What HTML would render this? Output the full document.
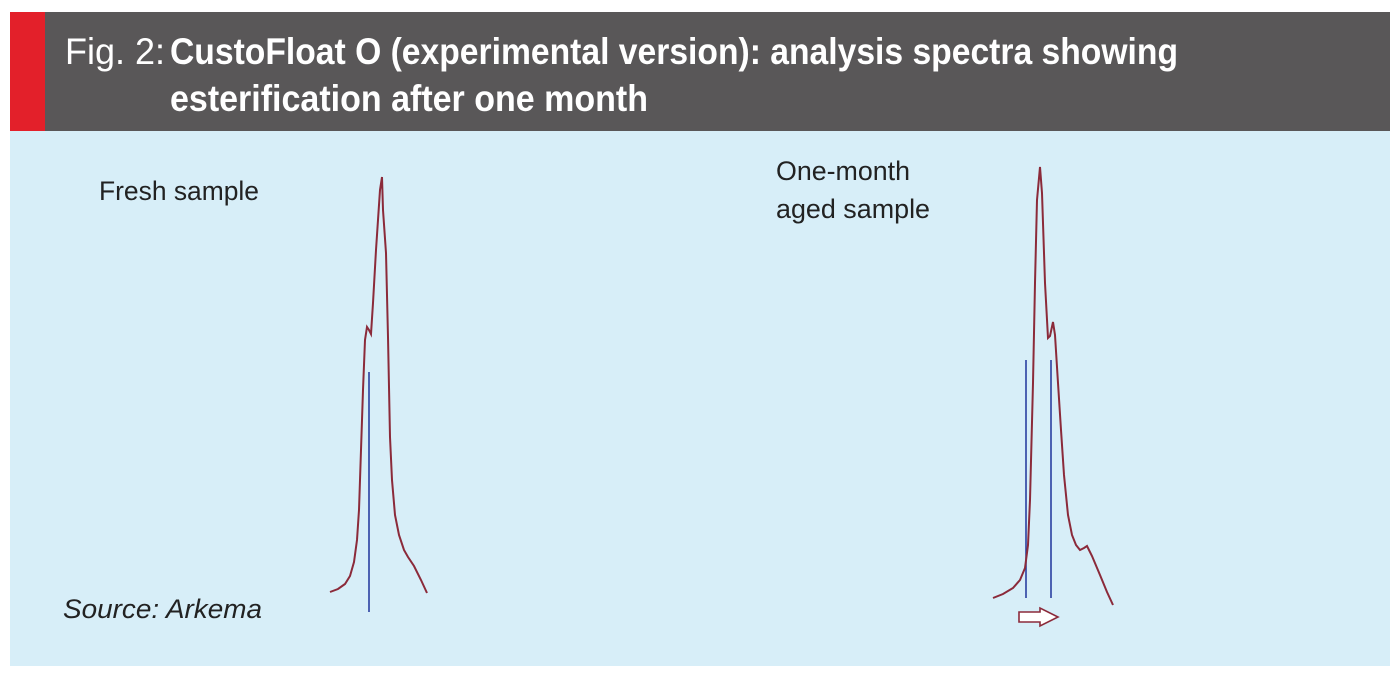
<!DOCTYPE html>
<html><head><style>
html,body{margin:0;padding:0;background:#fff;}
</style></head><body>
<svg width="1393" height="674" xmlns="http://www.w3.org/2000/svg" style="display:block">
<rect x="0" y="0" width="1393" height="674" fill="#fff"/>
<rect x="10" y="12" width="1380" height="119" fill="#595758"/>
<rect x="10" y="12" width="35" height="119" fill="#e3202a"/>
<rect x="10" y="131" width="1380" height="535" fill="#d7eef8"/>
<g font-family="Liberation Sans, sans-serif" fill="#fff" font-size="37">
<text x="65" y="64" textLength="100" lengthAdjust="spacingAndGlyphs">Fig. 2:</text>
<text x="170" y="64" font-weight="bold" textLength="1008" lengthAdjust="spacingAndGlyphs">CustoFloat O (experimental version): analysis spectra showing</text>
<text x="170" y="111" font-weight="bold" textLength="478" lengthAdjust="spacingAndGlyphs">esterification after one month</text>
</g>
<g font-family="Liberation Sans, sans-serif" fill="#222" font-size="27">
<text x="99" y="200" textLength="160" lengthAdjust="spacingAndGlyphs">Fresh sample</text>
<text x="776" y="180" textLength="134" lengthAdjust="spacingAndGlyphs">One-month</text>
<text x="776" y="218" textLength="154" lengthAdjust="spacingAndGlyphs">aged sample</text>
<text x="63" y="618" font-style="italic" textLength="199" lengthAdjust="spacingAndGlyphs">Source: Arkema</text>
</g>
<line x1="369" y1="372" x2="369" y2="612" stroke="#2a3fa0" stroke-width="1.6"/>
<polyline fill="none" stroke="#8b2a3a" stroke-width="2" points="330,592 338,589 345,584 350,576 354,562 357,540 359,510 361,450 363,390 365,340 367,327 369,330 371,334 373,303 376,250 378,220 380,190 382,177 383,210 386,253 388,337 390,437 392,480 395,515 399,535 404,550 408,557 414,566 421,580 427,593"/>
<line x1="1026" y1="360" x2="1026" y2="598" stroke="#2a3fa0" stroke-width="1.6"/>
<line x1="1051" y1="360" x2="1051" y2="598" stroke="#2a3fa0" stroke-width="1.6"/>
<polyline fill="none" stroke="#8b2a3a" stroke-width="2" points="993,598 1003,594 1013,588 1020,580 1025,568 1028,545 1030,500 1033,383 1035,283 1037,200 1040,167 1042,193 1045,283 1048,338 1050,336 1053,322 1055,335 1058,383 1061,430 1064,475 1068,515 1072,535 1076,545 1080,550 1084,548 1087,546 1092,556 1100,575 1107,592 1113,605"/>
<polygon points="1019,612 1040,612 1040,608 1058,617 1040,626 1040,622 1019,622" fill="#fff" stroke="#8b2a3a" stroke-width="1.6"/>
</svg>
</body></html>
